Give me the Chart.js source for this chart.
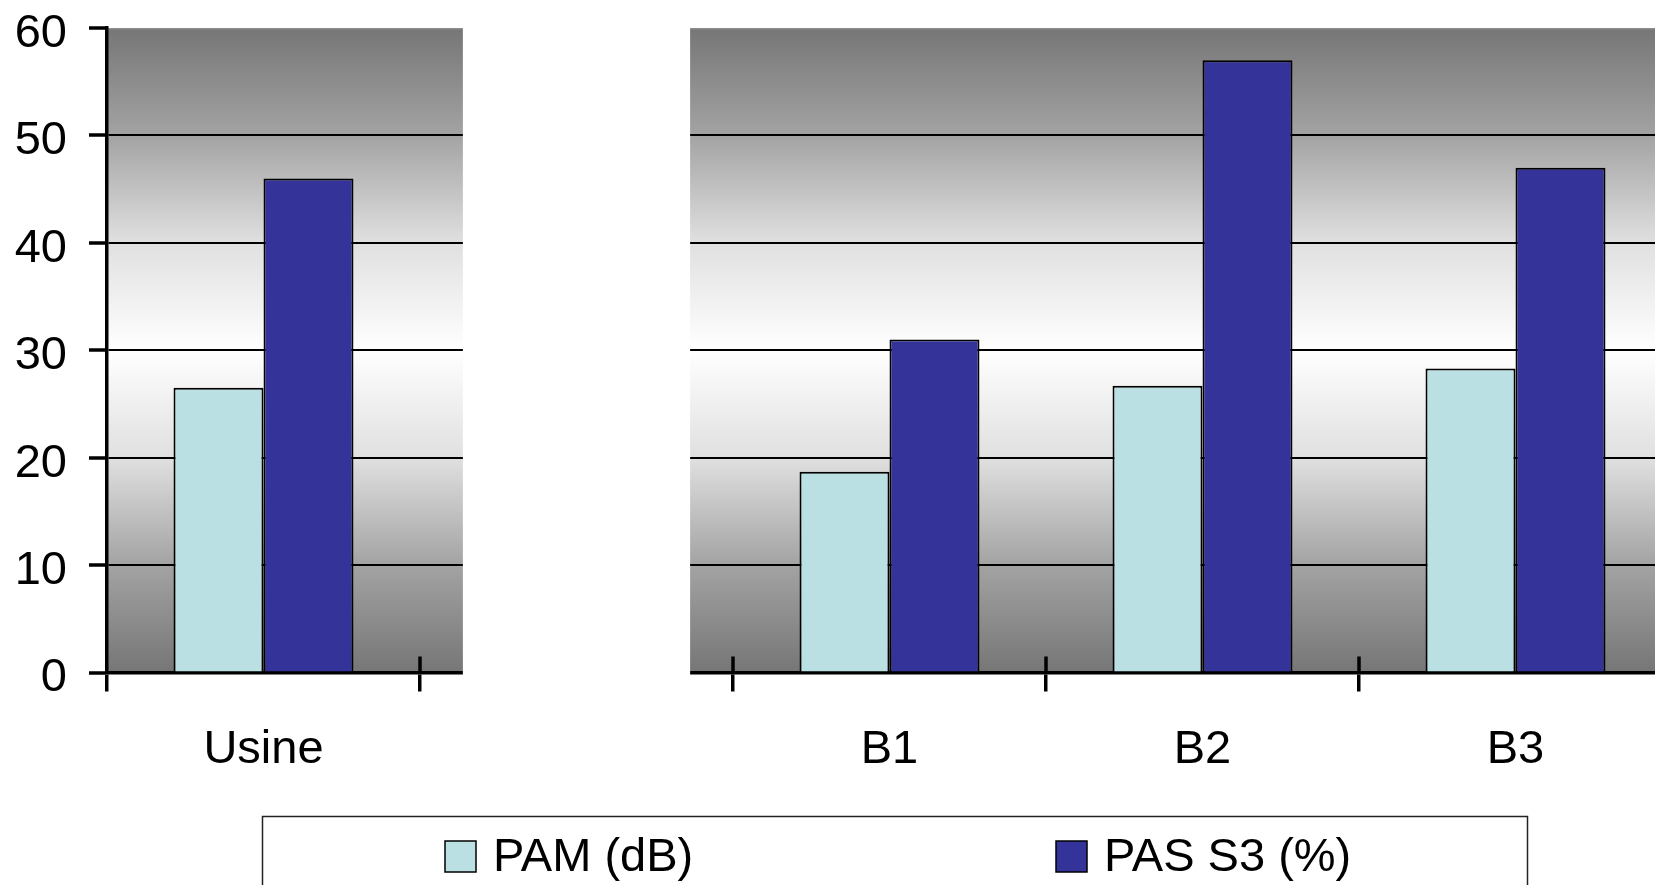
<!DOCTYPE html>
<html>
<head>
<meta charset="utf-8">
<script src="https://cdn.jsdelivr.net/npm/chart.js@4.4.1/dist/chart.umd.min.js"></script>
<style>
  html, body { margin: 0; padding: 0; background: #fff; overflow: hidden; width: 1655px; height: 885px; }
  canvas { display: block; }
</style>
</head>
<body>
<canvas id="c" width="1700" height="885"></canvas>
<script>
// Sites (the second slot is an empty spacer between the plant and the buildings)
const categories = ['Usine', '', 'B1', 'B2', 'B3'];
const pamDb = [26.5, null, 18.7, 26.7, 28.3];
const pasS3 = [46.0, null, 31.0, 57.0, 47.0];
const yTicks = [0, 10, 20, 30, 40, 50, 60];
const seriesNames = ['PAM (dB)', 'PAS S3 (%)'];
const seriesColors = ['#BAE0E3', '#333399'];

const FONT = '"Liberation Sans", Arial, Helvetica, sans-serif';

// Grey-white-grey vertical gradient behind the plot
const plotBackground = {
  id: 'plotBackground',
  beforeDraw(chart) {
    const { ctx, chartArea: a } = chart;
    const g = ctx.createLinearGradient(0, a.top, 0, a.bottom);
    g.addColorStop(0, '#767676');
    g.addColorStop(1 / 6, '#a3a3a3');
    g.addColorStop(2 / 6, '#e0e0e0');
    g.addColorStop(0.5, '#ffffff');
    g.addColorStop(4 / 6, '#e0e0e0');
    g.addColorStop(5 / 6, '#a3a3a3');
    g.addColorStop(1, '#767676');
    ctx.save();
    ctx.fillStyle = g;
    ctx.fillRect(a.left, a.top, a.right - a.left, a.bottom - a.top);
    ctx.strokeStyle = '#8c8c8c';
    ctx.lineWidth = 1.5;
    ctx.beginPath();
    ctx.moveTo(a.left, a.top + 0.75);
    ctx.lineTo(a.right, a.top + 0.75);
    ctx.stroke();
    ctx.restore();
  }
};

// Blank band over the spacer category
const spacerBand = {
  id: 'spacerBand',
  beforeDatasetsDraw(chart) {
    const { ctx, chartArea: a } = chart;
    const x = chart.scales.x;
    const cw = (a.right - a.left) / categories.length;
    const cx = x.getPixelForValue(1);
    const half = cw * 0.363;
    ctx.save();
    ctx.fillStyle = '#ffffff';
    ctx.fillRect(cx - half, a.top - 2, half * 2, a.bottom - a.top + 6);
    ctx.restore();
  }
};

// Category tick marks that cross the axis (inner part)
const crossTicks = {
  id: 'crossTicks',
  afterDatasetsDraw(chart) {
    const { ctx, chartArea: a } = chart;
    const x = chart.scales.x;
    ctx.save();
    ctx.strokeStyle = '#000';
    ctx.lineWidth = 3.5;
    for (let i = 1; i < categories.length; i++) {
      const px = (x.getPixelForValue(i - 1) + x.getPixelForValue(i)) / 2;
      ctx.beginPath();
      ctx.moveTo(px, a.bottom - 16);
      ctx.lineTo(px, a.bottom);
      ctx.stroke();
    }
    ctx.restore();
  }
};

// Boxed legend under the chart
const boxedLegend = {
  id: 'boxedLegend',
  afterDraw(chart) {
    const { ctx } = chart;
    ctx.save();
    ctx.strokeStyle = '#222';
    ctx.lineWidth = 1.5;
    ctx.strokeRect(262.5, 816.5, 1265, 120);
    const swatchX = [445, 1056];
    ctx.font = '47px ' + FONT;
    ctx.textBaseline = 'alphabetic';
    ctx.textAlign = 'left';
    chart.data.datasets.forEach((ds, i) => {
      ctx.fillStyle = ds.backgroundColor;
      ctx.fillRect(swatchX[i], 841, 31, 31);
      ctx.strokeStyle = '#000';
      ctx.lineWidth = 1.5;
      ctx.strokeRect(swatchX[i], 841, 31, 31);
      ctx.fillStyle = '#000';
      ctx.fillText(ds.label, swatchX[i] + 48, 871);
    });
    ctx.restore();
  }
};

new Chart(document.getElementById('c'), {
  type: 'bar',
  data: {
    labels: categories,
    datasets: [
      { label: seriesNames[0], data: pamDb, backgroundColor: seriesColors[0], borderColor: '#000', borderWidth: 2 },
      { label: seriesNames[1], data: pasS3, backgroundColor: seriesColors[1], borderColor: '#000', borderWidth: 2 }
    ]
  },
  options: {
    responsive: false,
    animation: false,
    events: [],
    categoryPercentage: 0.575,
    barPercentage: 1,
    layout: { padding: { top: 28, right: 28, bottom: 92.5, left: 0 } },
    plugins: { legend: { display: false }, tooltip: { enabled: false } },
    scales: {
      x: {
        afterFit(s) { s.height = 120; s.paddingLeft = 0; s.paddingRight = 0; },
        border: { display: true, color: '#000', width: 3.5 },
        grid: { drawOnChartArea: false, offset: true, color: '#000', lineWidth: 3.5, tickLength: 19 },
        ticks: { color: '#000', font: { family: FONT, size: 47 }, padding: 30, maxRotation: 0, autoSkip: false }
      },
      y: {
        min: 0,
        max: 60,
        afterBuildTicks(s) { s.ticks = yTicks.map(v => ({ value: v })); },
        afterFit(s) { s.width = 107; s.paddingTop = 0; s.paddingBottom = 0; },
        border: { display: true, color: '#000', width: 3.5 },
        grid: {
          color: c => (c.tick && c.tick.value === 60) ? 'rgba(0,0,0,0)' : '#000',
          lineWidth: 2,
          tickColor: '#000',
          tickWidth: 3.5,
          tickLength: 18
        },
        ticks: { color: '#000', font: { family: FONT, size: 47 }, padding: 22, labelOffset: 6 }
      }
    }
  },
  plugins: [plotBackground, spacerBand, crossTicks, boxedLegend]
});
</script>
</body>
</html>
